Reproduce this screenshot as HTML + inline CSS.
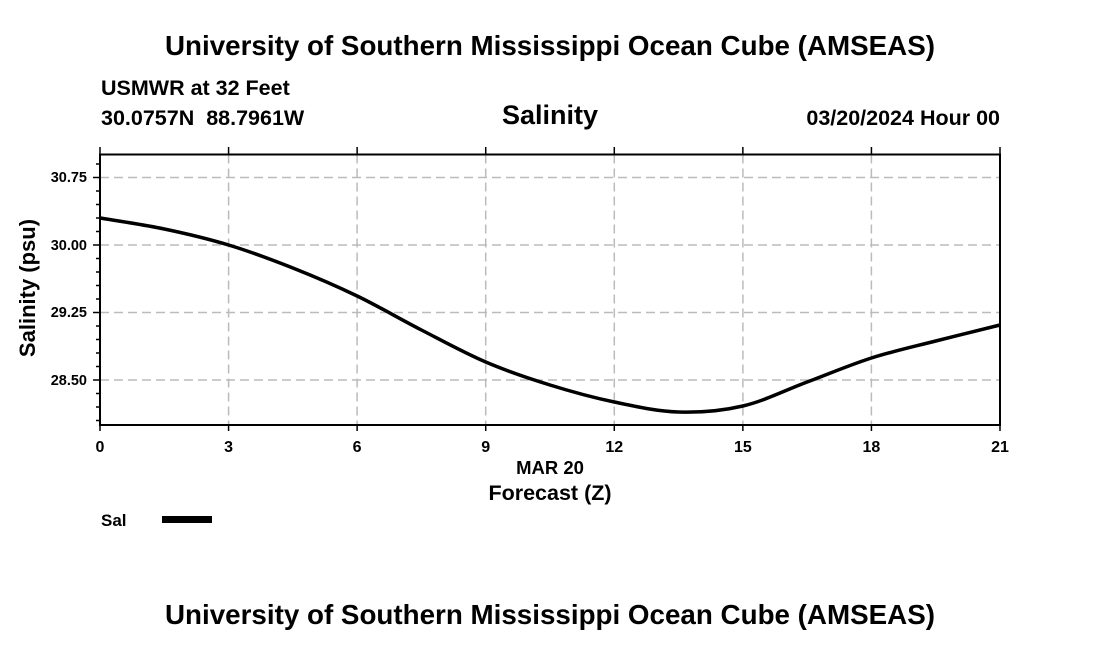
<!DOCTYPE html>
<html><head><style>body{margin:0;background:#fff}svg{display:block}text{font-family:"Liberation Sans",sans-serif;font-weight:bold;fill:#000}</style></head>
<body>
<svg width="1100" height="650" viewBox="0 0 1100 650" xmlns="http://www.w3.org/2000/svg">
<text x="550" y="55" font-size="27.5" text-anchor="middle" textLength="770" lengthAdjust="spacingAndGlyphs">University of Southern Mississippi Ocean Cube (AMSEAS)</text>
<text x="550" y="624" font-size="27.5" text-anchor="middle" textLength="770" lengthAdjust="spacingAndGlyphs">University of Southern Mississippi Ocean Cube (AMSEAS)</text>
<text x="101" y="95" font-size="21.5">USMWR at 32 Feet</text>
<text x="101" y="125" font-size="21.5">30.0757N&#160;&#160;88.7961W</text>
<text x="550" y="124" font-size="27" text-anchor="middle">Salinity</text>
<text x="1000" y="125" font-size="21.5" text-anchor="end">03/20/2024 Hour 00</text>
<g stroke="#bbb" stroke-width="1.5" stroke-dasharray="9,5">
<line x1="100" y1="177.5" x2="1000" y2="177.5"/><line x1="100" y1="245" x2="1000" y2="245"/><line x1="100" y1="312.5" x2="1000" y2="312.5"/><line x1="100" y1="380" x2="1000" y2="380"/>
<line x1="228.6" y1="154.5" x2="228.6" y2="425"/><line x1="357.1" y1="154.5" x2="357.1" y2="425"/><line x1="485.7" y1="154.5" x2="485.7" y2="425"/><line x1="614.3" y1="154.5" x2="614.3" y2="425"/><line x1="742.9" y1="154.5" x2="742.9" y2="425"/><line x1="871.4" y1="154.5" x2="871.4" y2="425"/>
</g>
<g id="ticks" stroke="#000" stroke-width="1.5"></g>
<rect x="100" y="154.5" width="900" height="270.5" fill="none" stroke="#000" stroke-width="2"/>
<path id="curve" fill="none" stroke="#000" stroke-width="3.5" stroke-linejoin="round"/>
<g font-size="14.5" text-anchor="end">
<text x="87" y="182">30.75</text><text x="87" y="250">30.00</text><text x="87" y="317">29.25</text><text x="87" y="385">28.50</text>
</g>
<g font-size="16" text-anchor="middle">
<text x="100" y="452">0</text><text x="228.6" y="452">3</text><text x="357.1" y="452">6</text><text x="485.7" y="452">9</text><text x="614.3" y="452">12</text><text x="742.9" y="452">15</text><text x="871.4" y="452">18</text><text x="1000" y="452">21</text>
<text x="550" y="474" font-size="18.5">MAR 20</text>
<text x="550" y="500" font-size="21.5">Forecast (Z)</text>
</g>
<text transform="translate(35,288) rotate(-90)" font-size="22" text-anchor="middle">Salinity (psu)</text>
<text x="101" y="526" font-size="17">Sal</text>
<rect x="162" y="516" width="50" height="7" fill="#000"/>
</svg>
<script>
var t=document.getElementById('ticks'),s='';
for(var i=0;i<=7;i++){var x=100+i*900/7;s+='<line x1="'+x+'" y1="147" x2="'+x+'" y2="154.5"/><line x1="'+x+'" y1="425" x2="'+x+'" y2="431"/>';}
for(var y=177.5-13.5;y<425;y+=13.5){if(y<155)continue;var L=(Math.abs((y-177.5)/67.5-Math.round((y-177.5)/67.5))<0.01)?7:4;s+='<line x1="'+(100-L)+'" y1="'+y+'" x2="100" y2="'+y+'"/>';}
t.innerHTML=s;
var v=[218,229,245,268,296,330,362,385,402,412,406,382,358,341,325];
var p=v.map(function(y,i){return [100+i*1.5*900/21,y];});
var d='M'+p[0][0]+','+p[0][1];
for(var i=0;i<p.length-1;i++){var a=p[Math.max(i-1,0)],b=p[i],c=p[i+1],e=p[Math.min(i+2,p.length-1)];
d+=' C'+(b[0]+(c[0]-a[0])/6)+','+(b[1]+(c[1]-a[1])/6)+' '+(c[0]-(e[0]-b[0])/6)+','+(c[1]-(e[1]-b[1])/6)+' '+c[0]+','+c[1];}
document.getElementById('curve').setAttribute('d',d);
</script>
</body></html>
